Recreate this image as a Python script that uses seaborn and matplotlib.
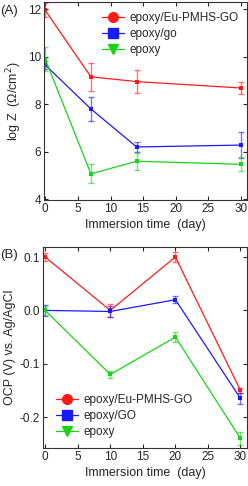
import matplotlib
matplotlib.use("Agg")
import matplotlib.pyplot as plt
from matplotlib.lines import Line2D
import pandas as pd
import seaborn as sns

# panel A: impedance
days_a = [0, 7, 14, 30]
eu_a = [11.95, 9.15, 8.95, 8.68]
eu_a_err = [0.3, 0.6, 0.5, 0.25]
go_a = [9.65, 7.8, 6.2, 6.28]
go_a_err = [0.15, 0.5, 0.2, 0.55]
ep_a = [9.9, 5.07, 5.6, 5.47]
ep_a_err = [0.5, 0.4, 0.35, 0.3]

# panel B: OCP
days_b = [0, 10, 20, 30]
eu_b = [0.1, 0.0, 0.1, -0.15]
eu_b_err = [0.007, 0.012, 0.01, 0.005]
go_b = [0.0, -0.002, 0.02, -0.165]
go_b_err = [0.01, 0.01, 0.007, 0.01]
ep_b = [0.0, -0.12, -0.05, -0.24]
ep_b_err = [0.008, 0.007, 0.01, 0.012]

RED, BLUE, GREEN = "#ff1a1a", "#1a1aff", "#1ad11a"
MARKERS = ["o", "s", "v"]

sns.set_theme(style="ticks")
plt.rcParams["font.family"] = ["Liberation Sans", "DejaVu Sans"]
plt.rcParams.update({
    "font.size": 9,
    "axes.labelsize": 9,
    "xtick.labelsize": 8.5,
    "ytick.labelsize": 8.5,
    "legend.fontsize": 8.5,
    "xtick.direction": "in",
    "ytick.direction": "in",
    "xtick.top": True,
    "ytick.right": True,
    "axes.linewidth": 0.8,
    "axes.edgecolor": "#333333",
})


def draw_panel(ax, days, series):
    for (y, err), color in zip(series, [RED, BLUE, GREEN]):
        df = pd.DataFrame({"day": days, "val": y})
        sns.lineplot(data=df, x="day", y="val", ax=ax, color=color, lw=0.9,
                     marker="s", markersize=3, markeredgewidth=0, legend=False)
        ax.errorbar(days, y, yerr=err, fmt="none", ecolor=color, alpha=0.6,
                    elinewidth=1.0, capsize=2.5, capthick=1.0)
    return [Line2D([], [], color=c, lw=0.9, marker=m, markersize=7)
            for c, m in zip([RED, BLUE, GREEN], MARKERS)]


fig = plt.figure(figsize=(2.48, 4.86), dpi=100)
ax1 = fig.add_axes([0.177, 0.588, 0.819, 0.408])
ax2 = fig.add_axes([0.173, 0.078, 0.823, 0.414])

labels_a = ["epoxy/Eu-PMHS-GO", "epoxy/go", "epoxy"]
h = draw_panel(ax1, days_a, [(eu_a, eu_a_err), (go_a, go_a_err), (ep_a, ep_a_err)])
ax1.set_xlim(-0.2, 30.9)
ax1.set_ylim(3.96, 12.3)
ax1.set_yticks([4, 6, 8, 10, 12])
ax1.set_xticks([0, 5, 10, 15, 20, 25, 30])
ax1.set_xlabel("Immersion time  (day)", labelpad=3)
ax1.set_ylabel("log Z  (Ω/cm$^2$)", labelpad=3)
ax1.legend(h, labels_a, loc="upper right", bbox_to_anchor=(1.0, 0.99),
           frameon=False, handlelength=1.9, handletextpad=0.45,
           labelspacing=0.35, borderaxespad=0.3)

labels_b = ["epoxy/Eu-PMHS-GO", "epoxy/GO", "epoxy"]
h = draw_panel(ax2, days_b, [(eu_b, eu_b_err), (go_b, go_b_err), (ep_b, ep_b_err)])
ax2.set_xlim(-0.35, 31)
ax2.set_ylim(-0.258, 0.119)
ax2.set_yticks([-0.2, -0.1, 0.0, 0.1])
ax2.set_yticklabels(["-0.2", "-0.1", "0.0", "0.1"])
ax2.set_xticks([0, 5, 10, 15, 20, 25, 30])
ax2.set_xlabel("Immersion time  (day)", labelpad=3)
ax2.set_ylabel("OCP (V) vs. Ag/AgCl", labelpad=3)
ax2.legend(h, labels_b, loc="lower left", bbox_to_anchor=(0.04, 0.025),
           frameon=False, handlelength=1.9, handletextpad=0.45,
           labelspacing=0.35, borderaxespad=0.0)

for ax in (ax1, ax2):
    ax.tick_params(length=3, width=0.8, pad=2)

fig.text(0.0, 0.99, "(A)", fontsize=9.5, va="top", ha="left")
fig.text(0.0, 0.488, "(B)", fontsize=9.5, va="top", ha="left")

fig.savefig("out.png", dpi=100)
